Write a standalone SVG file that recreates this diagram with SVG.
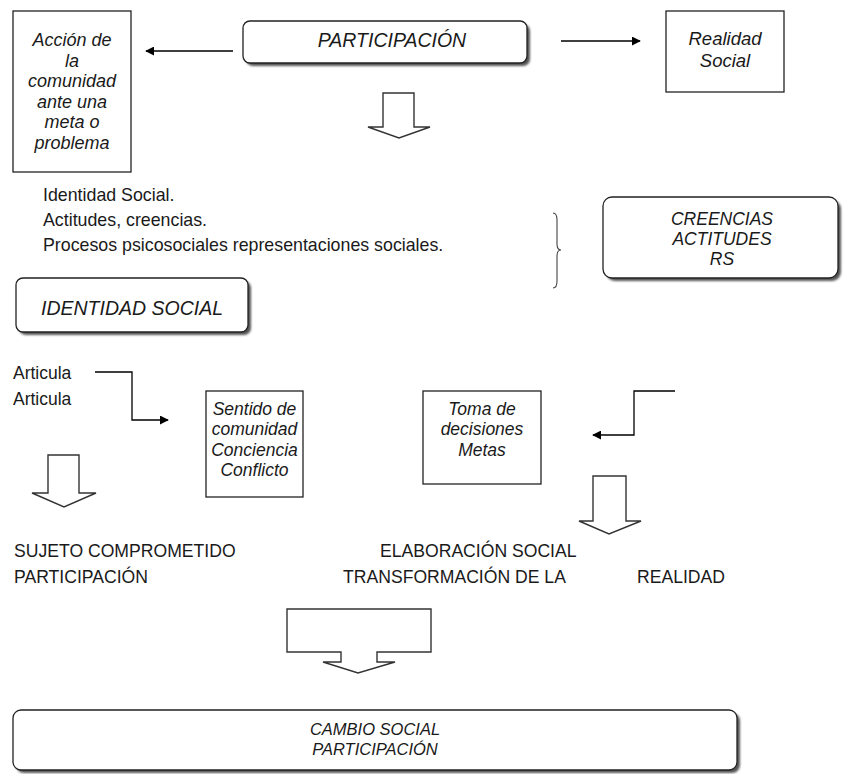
<svg xmlns="http://www.w3.org/2000/svg" width="843" height="774" viewBox="0 0 843 774">
  <defs>
    <marker id="arrow" viewBox="0 0 10 10" refX="9" refY="5" markerWidth="9" markerHeight="9" markerUnits="userSpaceOnUse" orient="auto">
      <path d="M0,0 L10,5 L0,10 z" fill="#000"/>
    </marker>
    <filter id="soft" x="-5%" y="-5%" width="110%" height="120%">
      <feGaussianBlur stdDeviation="0.8"/>
    </filter>
  </defs>
  <style>
    text { font-family: "Liberation Sans", Arial, sans-serif; fill: #1a1a1a; }
    .it { font-style: italic; }
    .mid { text-anchor: middle; }
    .box { fill: #fff; stroke: #222; stroke-width: 1.3; }
    .rbox { fill: #fff; stroke: #222; stroke-width: 1.3; }
    .shadow { fill: #555; filter: url(#soft); }
    .conn { fill: none; stroke: #000; stroke-width: 1.3; }
    .block { fill: #fff; stroke: #333; stroke-width: 1.4; stroke-linejoin: miter; }
    .brace { fill: none; stroke: #444; stroke-width: 1.1; }
  </style>

  <rect width="843" height="774" fill="#fff"/>

  <!-- Connectors -->
  <g id="connectors">
    <line class="conn" x1="233" y1="51" x2="146" y2="51" marker-end="url(#arrow)"/>
    <line class="conn" x1="561" y1="41" x2="640" y2="41" marker-end="url(#arrow)"/>
    <polyline class="conn" points="95,372 132,372 132,420 168,420" marker-end="url(#arrow)"/>
    <polyline class="conn" points="675,391 634,391 634,435 593,435" marker-end="url(#arrow)"/>
    <path class="brace" d="M553,213 Q557,213 557,220 L557,244 Q557,250 561,250 Q557,250 557,256 L557,281 Q557,288 553,288"/>
  </g>

  <!-- Block arrows -->
  <g id="block-arrows">
    <path class="block" d="M383,93 L414,93 L414,127 L430,127 L399,138 L368,127 L383,127 Z"/>
    <path class="block" d="M48,455 L79,455 L79,493 L96,493 L64,507 L32,493 L48,493 Z"/>
    <path class="block" d="M593,476 L626,476 L626,521 L641,521 L609,534 L579,521 L593,521 Z"/>
    <path class="block" d="M287,609 L431,609 L431,652 L377,652 L377,662 L395,662 L358,673 L323,662 L341,662 L341,652 L287,652 Z"/>
  </g>

  <!-- Nodes -->
  <g id="accion">
    <rect class="box" x="13" y="11" width="118" height="161"/>
    <text class="it mid" font-size="18" x="72" y="46">Acción de</text>
    <text class="it mid" font-size="18" x="72" y="66.5">la</text>
    <text class="it mid" font-size="18" x="72" y="87">comunidad</text>
    <text class="it mid" font-size="18" x="72" y="107.5">ante una</text>
    <text class="it mid" font-size="18" x="72" y="128">meta o</text>
    <text class="it mid" font-size="18" x="72" y="148.5">problema</text>
  </g>

  <g id="participacion">
    <rect class="shadow" x="246" y="24" width="284" height="42" rx="7"/>
    <rect class="rbox" x="243" y="21" width="284" height="42" rx="7"/>
    <text class="it mid" font-size="19.5" x="392" y="47">PARTICIPACIÓN</text>
  </g>

  <g id="realidad-social">
    <rect class="box" x="666" y="11" width="118" height="81"/>
    <text class="it mid" font-size="18.5" x="725" y="45">Realidad</text>
    <text class="it mid" font-size="18.5" x="725" y="67">Social</text>
  </g>

  <g id="lista">
    <text font-size="17.8" x="43" y="201">Identidad Social.</text>
    <text font-size="17.8" x="43" y="226">Actitudes, creencias.</text>
    <text font-size="17.8" x="43" y="251">Procesos psicosociales representaciones sociales.</text>
  </g>

  <g id="creencias">
    <rect class="shadow" x="606" y="200" width="235" height="81" rx="9"/>
    <rect class="rbox" x="603" y="197" width="235" height="81" rx="9"/>
    <text class="it mid" font-size="17.5" x="722" y="225">CREENCIAS</text>
    <text class="it mid" font-size="17.5" x="722" y="245">ACTITUDES</text>
    <text class="it mid" font-size="17.5" x="722" y="265">RS</text>
  </g>

  <g id="identidad-social">
    <rect class="shadow" x="19" y="281" width="232" height="54" rx="7"/>
    <rect class="rbox" x="16" y="278" width="232" height="54" rx="7"/>
    <text class="it" font-size="19.5" x="41" y="315">IDENTIDAD SOCIAL</text>
  </g>

  <g id="articula">
    <text font-size="17.5" x="13" y="379">Articula</text>
    <text font-size="17.5" x="13" y="405">Articula</text>
  </g>

  <g id="sentido">
    <rect class="box" x="206" y="391" width="97" height="106"/>
    <text class="it mid" font-size="17.5" x="254.5" y="415">Sentido de</text>
    <text class="it mid" font-size="17.5" x="254.5" y="435">comunidad</text>
    <text class="it mid" font-size="17.5" x="254.5" y="455.5">Conciencia</text>
    <text class="it mid" font-size="17.5" x="254.5" y="475.5">Conflicto</text>
  </g>

  <g id="toma-decisiones">
    <rect class="box" x="423" y="391" width="118" height="93"/>
    <text class="it mid" font-size="17.5" x="482" y="415">Toma de</text>
    <text class="it mid" font-size="17.5" x="482" y="435">decisiones</text>
    <text class="it mid" font-size="17.5" x="482" y="455.5">Metas</text>
  </g>

  <g id="sujeto">
    <text font-size="17.6" x="14" y="557">SUJETO COMPROMETIDO</text>
    <text font-size="17.6" x="14" y="583">PARTICIPACIÓN</text>
  </g>

  <g id="elaboracion">
    <text font-size="17.6" x="380" y="557">ELABORACIÓN SOCIAL</text>
    <text font-size="17.6" x="343" y="583">TRANSFORMACIÓN DE LA</text>
    <text font-size="17.6" x="637" y="583">REALIDAD</text>
  </g>

  <g id="cambio-social">
    <rect class="shadow" x="16" y="713" width="724" height="60" rx="8"/>
    <rect class="rbox" x="13" y="710" width="724" height="60" rx="8"/>
    <text class="it mid" font-size="16.5" x="375" y="735">CAMBIO SOCIAL</text>
    <text class="it mid" font-size="16.5" x="375" y="755">PARTICIPACIÓN</text>
  </g>
</svg>
